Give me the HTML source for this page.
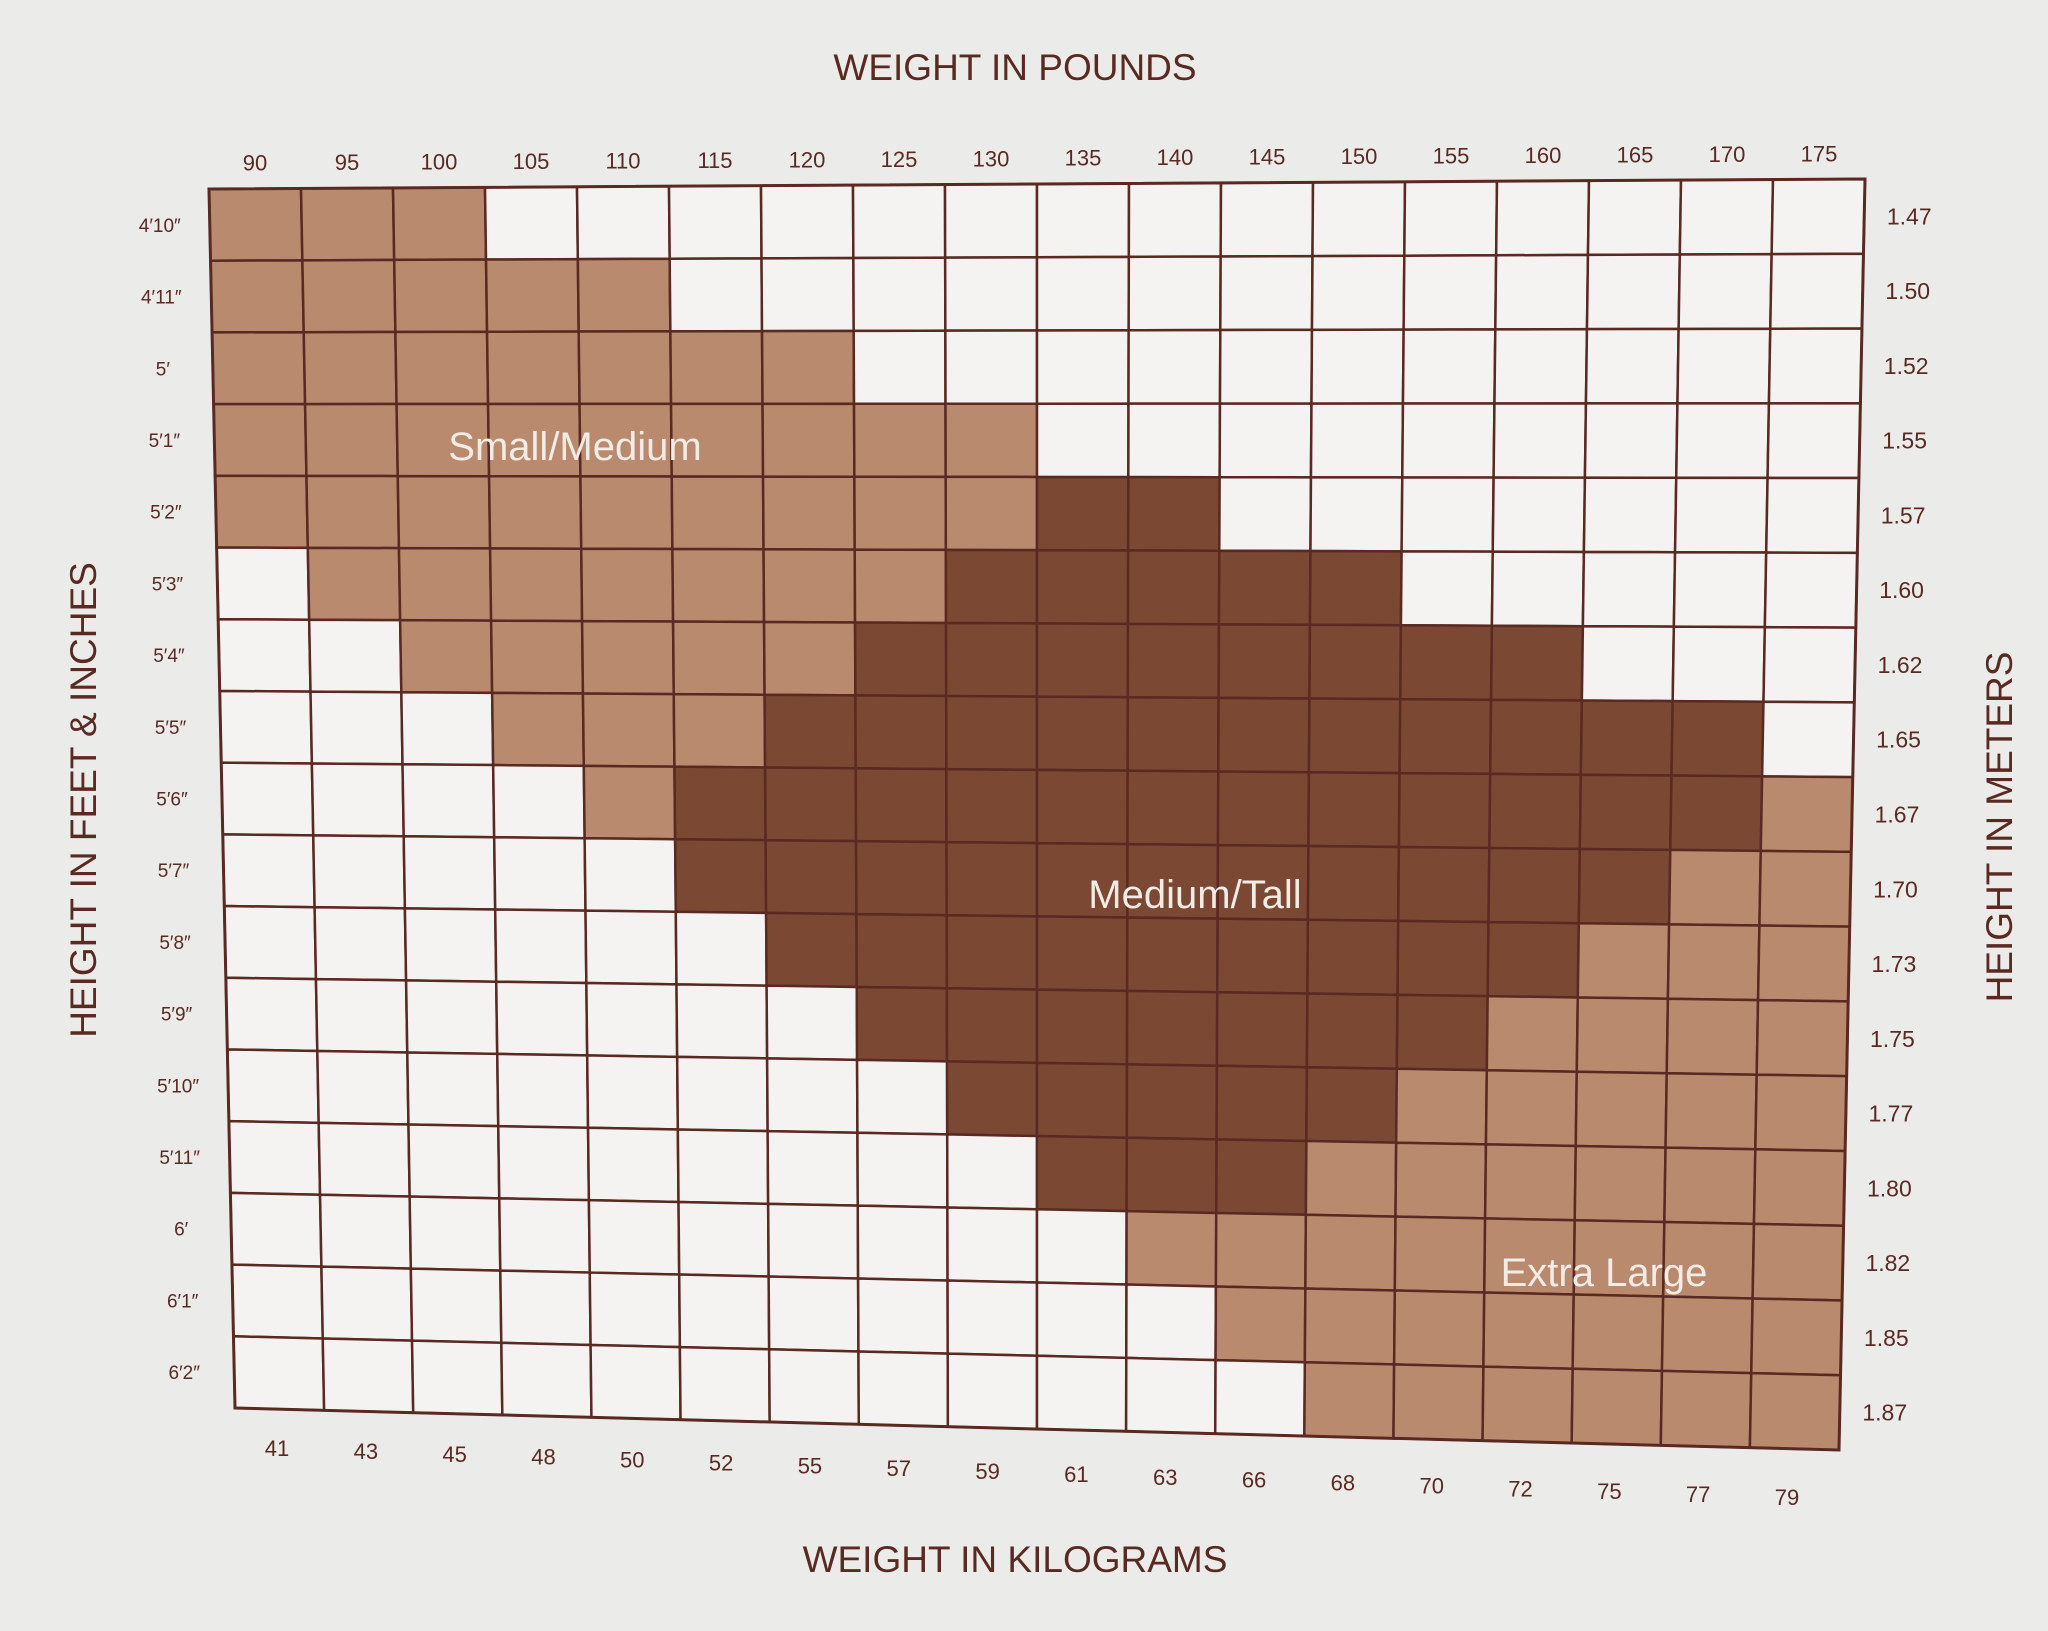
<!DOCTYPE html>
<html><head><meta charset="utf-8">
<style>
html,body{margin:0;padding:0;background:#ebebea;}
svg{display:block;}
text{font-family:"Liberation Sans",sans-serif;}
</style></head>
<body>
<svg id="s" width="2048" height="1631" viewBox="0 0 2048 1631" xmlns="http://www.w3.org/2000/svg">
<rect width="2048" height="1631" fill="#ebebea"/>
<g id="cells"></g>
<g fill="#5a2a22" font-size="37" text-anchor="middle">
<text x="1015" y="80">WEIGHT IN POUNDS</text>
<text x="1015" y="1572">WEIGHT IN KILOGRAMS</text>
<text transform="translate(96,800) rotate(-90)">HEIGHT IN FEET &amp; INCHES</text>
<text transform="translate(2012,827) rotate(-90)">HEIGHT IN METERS</text>
</g>
<g id="lab" fill="#5a2a22" font-size="22" text-anchor="middle"></g>
<g fill="#f3ece6" font-size="40" text-anchor="middle">
<text x="575" y="460">Small/Medium</text>
<text x="1195" y="908">Medium/Tall</text>
<text x="1604" y="1286">Extra Large</text>
</g>
</svg>
<script>
var TL=[209,189],TR=[1865,179],BL=[235,1408],BR=[1839,1450];
function P(u,v){return [TL[0]+u*(TR[0]-TL[0])+v*(BL[0]-TL[0])+u*v*(BR[0]-BL[0]-TR[0]+TL[0]),
TL[1]+u*(TR[1]-TL[1])+v*(BL[1]-TL[1])+u*v*(BR[1]-BL[1]-TR[1]+TL[1])];}
var C=18,R=17;
// [lightStart,lightEnd,darkStart,darkEnd,light2Start]
var rows=[
"LLLWWWWWWWWWWWWWWW",
"LLLLLWWWWWWWWWWWWW",
"LLLLLLLWWWWWWWWWWW",
"LLLLLLLLLWWWWWWWWW",
"LLLLLLLLLDDWWWWWWW",
"WLLLLLLLDDDDDWWWWW",
"WWLLLLLDDDDDDDDWWW",
"WWWLLLDDDDDDDDDDDW",
"WWWWLDDDDDDDDDDDDL",
"WWWWWDDDDDDDDDDDLL",
"WWWWWWDDDDDDDDDLLL",
"WWWWWWWDDDDDDDLLLL",
"WWWWWWWWDDDDDLLLLL",
"WWWWWWWWWDDDLLLLLL",
"WWWWWWWWWWLLLLLLLL",
"WWWWWWWWWWWLLLLLLL",
"WWWWWWWWWWWWLLLLLL"];
var col={W:"#f4f3f1",L:"#b98a6e",D:"#7b4833"};
var ns="http://www.w3.org/2000/svg",g=document.getElementById("cells"),h="";
for(var r=0;r<R;r++)for(var c=0;c<C;c++){
var a=P(c/C,r/R),b=P((c+1)/C,r/R),d=P((c+1)/C,(r+1)/R),e=P(c/C,(r+1)/R);
h+='<polygon points="'+a+' '+b+' '+d+' '+e+'" fill="'+col[rows[r][c]]+'" stroke="#5a2a22" stroke-width="2.5"/>';}
var o=[P(0,0),P(1,0),P(1,1),P(0,1)];
h+='<polygon points="'+o.join(" ")+'" fill="none" stroke="#5a2a22" stroke-width="3"/>';
g.innerHTML=h;
var lb="",t;
var lbs=[90,95,100,105,110,115,120,125,130,135,140,145,150,155,160,165,170,175];
for(var c=0;c<C;c++){t=P((c+.5)/C,0);lb+='<text x="'+t[0]+'" y="'+(t[1]-18)+'">'+lbs[c]+'</text>';}
var hs=["4′10″","4′11″","5′","5′1″","5′2″","5′3″","5′4″","5′5″","5′6″","5′7″","5′8″","5′9″","5′10″","5′11″","6′","6′1″","6′2″"];
var ms=["1.47","1.50","1.52","1.55","1.57","1.60","1.62","1.65","1.67","1.70","1.73","1.75","1.77","1.80","1.82","1.85","1.87"];
for(var r=0;r<R;r++){t=P(0,(r+.5)/R);lb+='<text font-size="19" x="'+(t[0]-50)+'" y="'+(t[1]+7)+'">'+hs[r]+'</text>';
t=P(1,(r+.5)/R);lb+='<text font-size="23" x="'+(t[0]+45)+'" y="'+(t[1]+8)+'">'+ms[r]+'</text>';}
var kg=[41,43,45,48,50,52,55,57,59,61,63,66,68,70,72,75,77,79];
for(var i=0;i<18;i++){var x=277+i*(1787-277)/17,y=1456+i*(1505-1456)/17;lb+='<text x="'+x+'" y="'+y+'">'+kg[i]+'</text>';}
document.getElementById("lab").innerHTML=lb;
</script>
</body></html>
